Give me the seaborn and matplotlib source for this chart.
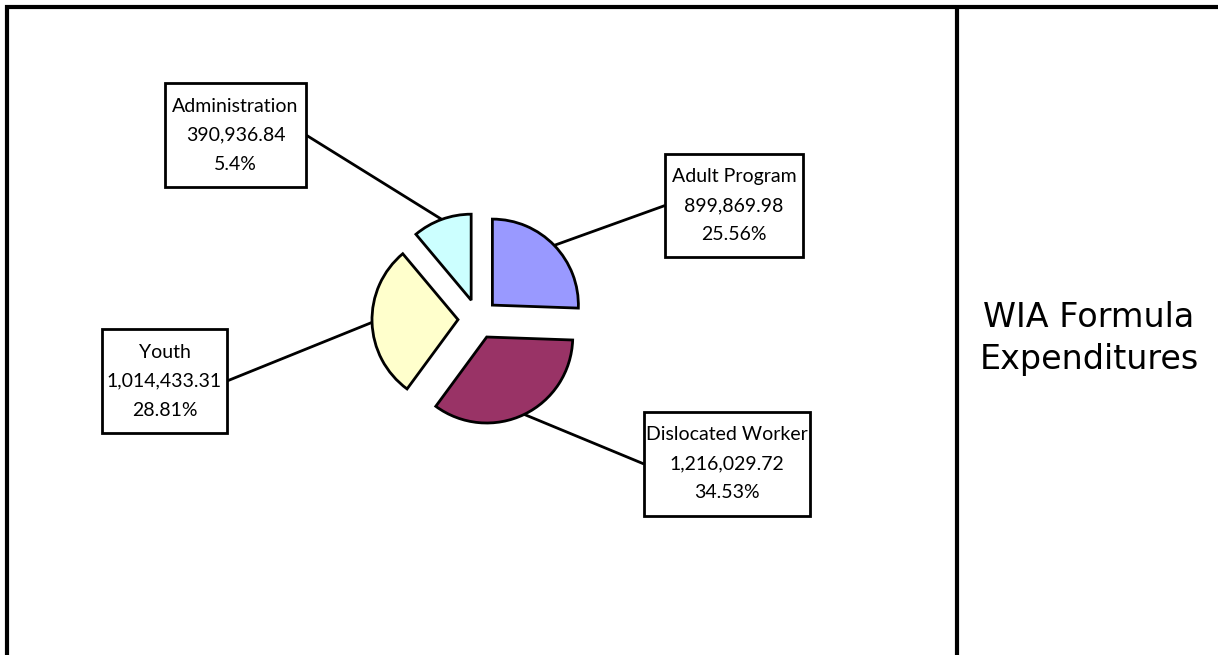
import numpy as np
import matplotlib
matplotlib.use("Agg")
import matplotlib.pyplot as plt
import matplotlib.patches as mpatches
import seaborn as sns

categories = ["Adult Program", "Dislocated Worker", "Youth", "Administration"]
amounts = [899869.98, 1216029.72, 1014433.31, 390936.84]
amount_labels = ["899,869.98", "1,216,029.72", "1,014,433.31", "390,936.84"]
pct_labels = ["25.56%", "34.53%", "28.81%", "5.4%"]
slice_colors = ["#9999FF", "#993366", "#FFFFCC", "#CCFFFF"]
title_lines = ["WIA Formula", "Expenditures"]

sns.set_style("white")
plt.rcParams["font.family"] = ["Lato", "DejaVu Sans"]
plt.rcParams["text.color"] = "black"

W, H = 1218, 655


def Y(py):
    # pixel row (from top) -> data y (from bottom)
    return H - py


fig = plt.figure(figsize=(W / 100, H / 100), dpi=100)
ax = fig.add_axes([0, 0, 1, 1])

palette = sns.color_palette(slice_colors)
wedges, _ = ax.pie(amounts, colors=palette, startangle=90, counterclock=False,
                   radius=86, center=(478, Y(319)), explode=[20] * len(amounts),
                   wedgeprops=dict(edgecolor="black", linewidth=2))

ax.set_xlim(0, W)
ax.set_ylim(0, H)
ax.set_aspect("equal")
ax.axis("off")

# label boxes: (left, top, right, bottom) in pixels, leader side
boxes = {
    "Adult Program": ((665, 154, 803, 257), "left"),
    "Dislocated Worker": ((644, 412, 810, 516), "left"),
    "Youth": ((102, 329, 227, 433), "right"),
    "Administration": ((165, 83, 306, 187), "right"),
}

for i, name in enumerate(categories):
    (l, t, r, b), side = boxes[name]
    ax.add_patch(mpatches.Rectangle((l, Y(b)), r - l, b - t, facecolor="white",
                                    edgecolor="black", linewidth=2, zorder=3))
    cy = (t + b) / 2
    for k, txt in enumerate([name, amount_labels[i], pct_labels[i]]):
        ax.text((l + r) / 2, Y(cy + (k - 1) * 29), txt, ha="center", va="center",
                fontsize=14, color="black", zorder=4)
    w = wedges[i]
    th = np.deg2rad((w.theta1 + w.theta2) / 2)
    ex = w.center[0] + w.r * np.cos(th)
    ey = w.center[1] + w.r * np.sin(th)
    ax_x = l if side == "left" else r
    ax.plot([ex, ax_x], [ey, Y(cy)], color="black", linewidth=2,
            solid_capstyle="butt", zorder=2)

# frame and divider
ax.plot([6.5, 6.5, W], [0, Y(6.5), Y(6.5)], color="black", linewidth=3,
        solid_joinstyle="miter")
ax.plot([957, 957], [0, Y(6.5)], color="black", linewidth=3)

ax.text(1089, Y(327), title_lines[0], ha="center", va="baseline", fontsize=24,
        color="black", family=["DejaVu Sans"])
ax.text(1089, Y(369), title_lines[1], ha="center", va="baseline", fontsize=24,
        color="black", family=["DejaVu Sans"])

fig.savefig("out.png", dpi=100, facecolor="white")
